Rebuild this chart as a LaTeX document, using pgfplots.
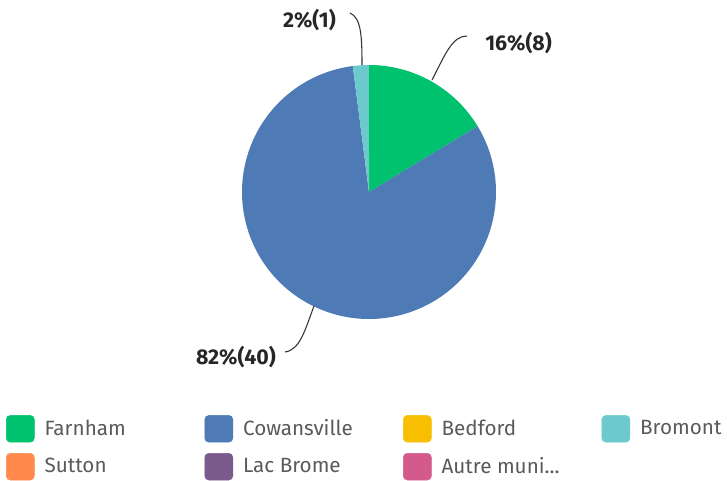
\documentclass[border=0pt]{standalone}
\usepackage{fontspec}
\setmainfont{Fira Sans}
\usepackage{pgfplots}
\pgfplotsset{compat=1.18}
\definecolor{cFarnham}{RGB}{0,193,110}
\definecolor{cCowans}{RGB}{78,122,181}
\definecolor{cBedford}{RGB}{248,190,0}
\definecolor{cBromont}{RGB}{108,202,204}
\definecolor{cSutton}{RGB}{255,138,76}
\definecolor{cLac}{RGB}{123,90,141}
\definecolor{cAutre}{RGB}{211,91,139}
\definecolor{legtext}{RGB}{90,90,90}
% data: Farnham 8, Cowansville 40, Bromont 1 (total 49)
\def\vA{8}\def\vB{40}\def\vC{1}\def\tot{49}
\def\cx{369}\def\cy{288}\def\R{127}
\pgfplotsset{
  sq/.style={legend image code/.code={\fill[#1,rounded corners=3pt] (0pt,-10pt) rectangle (21pt,10pt);}},
}
\newcommand{\lt}[1]{\hspace{5.5pt}\makebox[112pt][l]{\color{legtext}#1}}
\begin{document}
\begin{tikzpicture}
\begin{axis}[
  scale only axis, width=545.25pt, height=360pt,
  xmin=0, xmax=727, ymin=0, ymax=480,
  axis lines=none, clip=false,
  legend columns=4,
  legend style={draw=none, fill=none, at={(0.00825,0.135)}, anchor=north west,
     font=\fontsize{15.5}{17}\selectfont, inner sep=0pt, outer sep=0pt,
     /tikz/every even column/.append style={column sep=6pt},
     row sep=8pt},
  legend cell align=left,
]
\path (axis cs:0,0) rectangle (axis cs:727,480);
\addplot[forget plot, fill=cFarnham, draw=none, domain={90-360*\vA/\tot}:90, samples=80, variable=\t]
  ({\cx+\R*cos(\t)},{\cy+\R*sin(\t)}) -- (axis cs:\cx,\cy) -- cycle;
\addplot[forget plot, fill=cCowans, draw=none, domain={90-360*(\vA+\vB)/\tot}:{90-360*\vA/\tot}, samples=200, variable=\t]
  ({\cx+\R*cos(\t)},{\cy+\R*sin(\t)}) -- (axis cs:\cx,\cy) -- cycle;
\addplot[forget plot, fill=cBromont, draw=none, domain={90-360*(\vA+\vB+\vC)/\tot}:{90-360*(\vA+\vB)/\tot}, samples=20, variable=\t]
  ({\cx+\R*cos(\t)},{\cy+\R*sin(\t)}) -- (axis cs:\cx,\cy) -- cycle;
\addlegendimage{sq=cFarnham}\addlegendentry{\lt{Farnham}}
\addlegendimage{sq=cCowans}\addlegendentry{\lt{Cowansville}}
\addlegendimage{sq=cBedford}\addlegendentry{\lt{Bedford}}
\addlegendimage{sq=cBromont}\addlegendentry{\hspace{5.5pt}\makebox[60pt][l]{\color{legtext}Bromont}}
\addlegendimage{sq=cSutton}\addlegendentry{\lt{Sutton}}
\addlegendimage{sq=cLac}\addlegendentry{\lt{Lac Brome}}
\addlegendimage{sq=cAutre}\addlegendentry{\lt{Autre muni...}}
% leader lines
\draw[black!80, line width=0.8pt] (axis cs:432,400) .. controls (axis cs:445,425) and (axis cs:452,444) .. (axis cs:467,444);
\draw[black!80, line width=0.8pt] (axis cs:362,415) .. controls (axis cs:362,445) and (axis cs:361,462) .. (axis cs:350,467);
\draw[black!80, line width=0.8pt] (axis cs:314,174) .. controls (axis cs:305,150) and (axis cs:300,130) .. (axis cs:285,128);
\node[anchor=west, font=\fontsize{16}{18}\selectfont\bfseries, text=black!85, inner sep=0pt] at (axis cs:485,437) {16\%(8)};
\node[anchor=east, font=\fontsize{16}{18}\selectfont\bfseries, text=black!85, inner sep=0pt] at (axis cs:336,460) {2\%(1)};
\node[anchor=east, font=\fontsize{16}{18}\selectfont\bfseries, text=black!85, inner sep=0pt] at (axis cs:276,123) {82\%(40)};
\end{axis}
\end{tikzpicture}
\end{document}
